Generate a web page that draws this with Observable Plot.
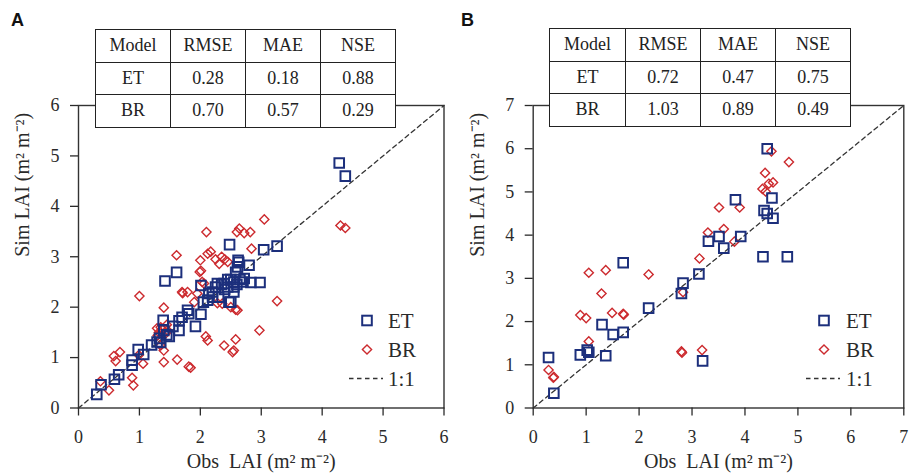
<!DOCTYPE html>
<html>
<head>
<meta charset="utf-8">
<script src="https://cdn.jsdelivr.net/npm/d3@7"></script>
<script src="https://cdn.jsdelivr.net/npm/@observablehq/plot@0.6"></script>
<style>
  body { margin: 0; background: #fff; }
  #wrap { position: relative; width: 909px; height: 474px; background: #fff; overflow: hidden; }
  .plot { position: absolute; top: 0; }
  table.stats { position: absolute; border-collapse: collapse; background: #fff;
    font-family: "Liberation Serif", "Times New Roman", serif; font-size: 18px; color: #222; }
  table.stats td { border: 1.4px solid #222; text-align: center; padding: 0; height: 31.5px; }
  .panel { position: absolute; font-family: "Liberation Sans", Arial, sans-serif; font-weight: bold; font-size: 18px; color: #111; }
  #overlay { position: absolute; left: 0; top: 0; pointer-events: none; }
</style>
</head>
<body>
<div id="wrap"></div>
<script>
// ---------------- data ----------------
const etObsA = [0.30,0.37,0.59,0.66,0.88,0.88,0.98,1.07,1.29,1.33,1.39,1.40,1.49,1.42,1.61,1.65,1.65,1.79,1.81,1.92,2.01,2.01,2.12,2.14,2.28,2.39,2.45,2.50,2.55,2.61,2.80,2.62,2.72,2.83,2.98,3.04,3.26,4.28,4.38,2.48,2.63,2.58,2.47,1.35,1.45,1.55,2.20,2.25,2.35,2.40,2.50,2.55,2.60,2.65,2.70,2.30,2.20,2.45,1.70,1.20,2.05,2.55];
const etSimA = [0.27,0.46,0.57,0.66,0.85,0.95,1.16,1.06,1.31,1.38,1.74,1.54,1.42,2.52,2.69,1.73,1.54,1.94,1.87,1.62,1.86,2.43,2.14,2.27,2.47,2.47,2.40,2.10,2.50,2.80,2.83,2.93,2.57,2.49,2.49,3.14,3.21,4.86,4.60,3.24,2.89,2.69,2.10,1.30,1.45,1.62,2.30,2.40,2.45,2.35,2.55,2.40,2.45,2.55,2.50,2.20,2.20,2.55,1.80,1.25,2.10,2.30];
const brObsA = [0.36,0.50,0.58,0.61,0.68,0.88,0.90,1.00,1.06,0.99,1.30,1.29,1.35,1.40,1.40,1.35,1.46,1.61,1.62,1.71,1.81,1.84,1.79,1.95,1.90,2.01,2.00,2.06,2.12,2.09,2.12,2.31,2.28,2.39,2.53,2.55,2.58,2.61,2.97,3.26,2.10,2.17,2.64,2.60,2.72,2.82,2.84,3.05,4.30,4.38,1.40,1.32,1.38,1.43,2.25,2.35,2.40,2.45,1.45,2.50,1.99,2.03,2.36,2.58,1.70];
const brSimA = [0.53,0.35,1.03,0.93,1.11,0.60,0.45,2.22,0.88,1.05,1.44,1.58,1.24,0.91,1.99,1.60,1.54,3.03,0.96,2.28,0.82,0.80,2.30,2.27,2.10,2.72,2.93,2.47,3.06,1.42,1.34,2.86,2.08,1.24,1.11,1.14,1.36,1.94,1.54,2.12,3.49,3.10,3.56,3.49,3.47,3.49,3.16,3.74,3.62,3.57,1.14,1.50,1.55,1.48,2.95,3.00,2.95,2.90,1.65,2.00,2.70,2.50,2.07,1.95,2.30];

const etObsB = [0.39,0.29,0.89,1.02,1.05,1.37,1.30,1.51,1.70,1.70,2.18,4.42,4.51,4.36,4.42,4.53,3.82,3.92,3.51,3.31,3.60,3.13,2.83,2.80,4.34,4.80,3.20];
const etSimB = [0.34,1.17,1.23,1.34,1.29,1.21,1.93,1.70,1.75,3.36,2.31,6.00,4.86,4.57,4.50,4.39,4.82,3.97,3.97,3.86,3.70,3.10,2.89,2.65,3.50,3.50,1.09];
const brObsB = [0.29,0.39,0.38,1.05,1.05,1.37,1.29,0.89,1.00,1.49,1.70,1.71,2.18,4.50,4.83,4.38,4.45,4.53,4.33,4.39,3.51,3.90,3.30,3.60,3.80,3.14,2.83,2.80,2.81,3.19];
const brSimB = [0.88,0.72,0.70,1.54,3.13,3.19,2.65,2.15,2.08,2.20,2.18,2.16,3.09,5.94,5.69,5.44,5.19,5.22,5.07,5.01,4.64,4.64,4.06,4.14,3.85,3.46,2.68,1.31,1.28,1.34];

const ticksA = [0,1,2,3,4,5,6];
const ticksB = [0,1,2,3,4,5,6,7];
const tableHeader = ["Model","RMSE","MAE","NSE"];
const tableRowsA = [["ET","0.28","0.18","0.88"],["BR","0.70","0.57","0.29"]];
const tableRowsB = [["ET","0.72","0.47","0.75"],["BR","1.03","0.89","0.49"]];
const legendLabels = ["ET","BR","1:1"];
const xTitle = "Obs\u00a0 LAI (m² m⁻²)";
const yTitle = "Sim LAI (m² m⁻²)";

// ---------------- styles ----------------
const BLUE = "#1c2f7c";
const RED = "#cc2a2e";
const FONT = "'Liberation Serif', 'Times New Roman', serif";

const squareSym = { draw(ctx, size) { const h = Math.sqrt(size / Math.PI); ctx.rect(-h, -h, 2*h, 2*h); } };
const diamondSym = { draw(ctx, size) { const h = Math.sqrt(size / Math.PI); ctx.moveTo(0,-h); ctx.lineTo(h,0); ctx.lineTo(0,h); ctx.lineTo(-h,0); ctx.closePath(); } };

function zipXY(xs, ys) { return xs.map((x, i) => ({x, y: ys[i]})); }

function panel({width, marginLeft, marginRight, max, ticks, et, br}) {
  return Plot.plot({
    width, height: 474,
    marginLeft, marginRight, marginTop: 105, marginBottom: 66.5,
    x: {domain: [0, max], ticks},
    y: {domain: [0, max], ticks},
    style: {fontFamily: FONT, fontSize: "18px", color: "#2a2a2a", background: "transparent", overflow: "visible"},
    marks: [
      Plot.line([0, max], {x: d => d, y: d => d, stroke: "#333", strokeWidth: 1.3, strokeDasharray: "4.5,3.5"}),
      Plot.dot(br, {x: "x", y: "y", symbol: diamondSym, r: 4.6, stroke: RED, strokeWidth: 1.4, fill: "none"}),
      Plot.dot(et, {x: "x", y: "y", symbol: squareSym, r: 4.8, stroke: BLUE, strokeWidth: 2, fill: "none"}),
      Plot.frame({stroke: "#333", strokeWidth: 1.4}),
      Plot.axisX({ticks, tickFormat: d3.format("d"), tickSize: 8, tickPadding: 14, label: null, fontSize: 18, strokeWidth: 1.3}),
      Plot.axisY({ticks, tickFormat: d3.format("d"), tickSize: 8, tickPadding: 11, label: null, fontSize: 18, strokeWidth: 1.3}),
      Plot.text([xTitle], {text: d => d, frameAnchor: "bottom", dy: 60, fontSize: 20, fill: "#2a2a2a", style: "word-spacing:2px"}),
      Plot.text([yTitle], {text: d => d, frameAnchor: "left", dx: -56, rotate: -90, fontSize: 20, fill: "#2a2a2a"})
    ]
  });
}

const wrap = document.getElementById("wrap");

const pA = panel({width: 455, marginLeft: 78, marginRight: 11.5, max: 6, ticks: ticksA,
  et: zipXY(etObsA, etSimA), br: zipXY(brObsA, brSimA)});
pA.classList.add("plot"); pA.style.left = "0px";
wrap.appendChild(pA);

const pB = panel({width: 454, marginLeft: 77.7, marginRight: 5.7, max: 7, ticks: ticksB,
  et: zipXY(etObsB, etSimB), br: zipXY(brObsB, brSimB)});
pB.classList.add("plot"); pB.style.left = "455px";
wrap.appendChild(pB);

// ---------------- tables ----------------
function makeTable(rows, left, top, colW) {
  const t = document.createElement("table");
  t.className = "stats";
  t.style.left = left + "px"; t.style.top = top + "px";
  [tableHeader, ...rows].forEach(r => {
    const tr = document.createElement("tr");
    r.forEach((c, i) => { const td = document.createElement("td"); td.textContent = c; td.style.width = colW[i] + "px"; tr.appendChild(td); });
    t.appendChild(tr);
  });
  wrap.appendChild(t);
}
makeTable(tableRowsA, 95, 29, [74, 74, 74, 74]);
makeTable(tableRowsB, 549, 28, [75, 74, 74, 74]);

// ---------------- panel letters ----------------
[["A", 11, 10], ["B", 461, 10]].forEach(([s, l, t]) => {
  const d = document.createElement("div"); d.className = "panel"; d.textContent = s;
  d.style.left = l + "px"; d.style.top = t + "px"; wrap.appendChild(d);
});

// ---------------- legends ----------------
const ov = d3.select(wrap).append("svg").attr("id", "overlay").attr("width", 909).attr("height", 474);
function legend(cx, textX, y0) {
  const g = ov.append("g");
  const h = 4.8;
  g.append("rect").attr("x", cx - h).attr("y", y0 - h).attr("width", 2*h).attr("height", 2*h)
    .attr("fill", "none").attr("stroke", BLUE).attr("stroke-width", 2);
  const d = 4.6, y1 = y0 + 29;
  g.append("path").attr("d", `M${cx},${y1-d}L${cx+d},${y1}L${cx},${y1+d}L${cx-d},${y1}Z`)
    .attr("fill", "none").attr("stroke", RED).attr("stroke-width", 1.4);
  const y2 = y0 + 58;
  g.append("line").attr("x1", cx - 18).attr("x2", cx + 16).attr("y1", y2).attr("y2", y2)
    .attr("stroke", "#333").attr("stroke-width", 1.3).attr("stroke-dasharray", "4.5,3.5");
  [y0, y1, y2].forEach((yy, i) => {
    g.append("text").attr("x", textX).attr("y", yy).attr("dy", "0.35em")
      .attr("font-family", FONT).attr("font-size", 21).attr("fill", "#2a2a2a").text(legendLabels[i]);
  });
}
legend(367, 388, 320.5);
legend(824, 846, 320.5);
</script>
</body>
</html>
